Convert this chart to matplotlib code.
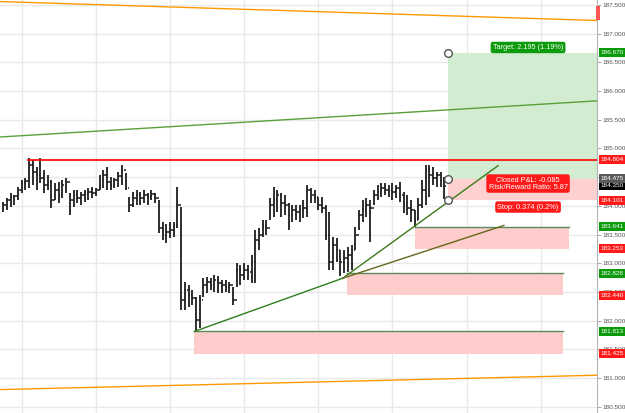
import matplotlib
matplotlib.use('Agg')
import matplotlib.pyplot as plt
from matplotlib.patches import Rectangle, FancyBboxPatch

plt.rcParams['font.family'] = ['Liberation Sans', 'DejaVu Sans']

# OHLC bars (open = previous close)
first_open = 184.05
highs = [184.07, 184.14, 184.23, 184.19, 184.33, 184.45, 184.49, 184.84, 184.80, 184.68,
         184.84, 184.63, 184.54, 184.45, 184.40, 184.42, 184.45, 184.49, 184.23, 184.28,
         184.28, 184.24, 184.28, 184.31, 184.33, 184.31, 184.54, 184.63, 184.68, 184.50,
         184.49, 184.59, 184.71, 184.57, 184.16, 184.24, 184.28, 184.24, 184.28, 184.23,
         184.28, 184.23, 184.10, 183.72, 183.69, 183.72, 183.72, 184.33, 183.98, 182.67,
         182.62, 182.53, 182.41, 182.45, 182.74, 182.76, 182.74, 182.80, 182.78, 182.71,
         182.71, 182.67, 182.59, 183.00, 182.97, 183.00, 182.97, 183.14, 183.58, 183.61,
         183.75, 183.75, 184.14, 184.33, 184.28, 184.23, 184.19, 184.05, 184.02, 184.02,
         184.02, 184.10, 184.36, 184.31, 184.28, 184.16, 184.16, 184.02, 183.89, 183.46,
         183.44, 183.23, 183.23, 183.29, 183.32, 183.63, 183.93, 184.10, 184.14, 184.10,
         184.28, 184.36, 184.40, 184.40, 184.36, 184.40, 184.36, 184.42, 184.24, 184.19,
         184.10, 183.93, 184.14, 184.45, 184.71, 184.71, 184.68, 184.59, 184.59, 184.50]
lows = [183.89, 183.93, 183.98, 184.02, 184.10, 184.23, 184.28, 184.31, 184.36, 184.28,
        184.40, 184.23, 184.28, 183.96, 184.10, 184.05, 184.14, 184.23, 183.84, 183.98,
        184.05, 184.02, 184.07, 184.10, 184.14, 184.17, 184.28, 184.31, 184.28, 184.28,
        184.31, 184.33, 184.36, 184.28, 183.89, 183.98, 184.02, 184.02, 184.05, 184.02,
        184.10, 184.05, 183.53, 183.41, 183.35, 183.44, 183.46, 183.61, 182.19, 182.19,
        182.24, 182.27, 181.813, 181.87, 182.41, 182.48, 182.53, 182.50, 182.48, 182.48,
        182.50, 182.48, 182.27, 182.59, 182.62, 182.71, 182.71, 182.66, 182.66, 183.23,
        183.46, 183.49, 183.75, 183.81, 183.89, 183.81, 183.84, 183.58, 183.72, 183.75,
        183.72, 183.79, 183.81, 184.05, 184.05, 183.93, 183.88, 183.41, 182.88, 182.88,
        183.02, 182.78, 182.828, 182.85, 182.88, 183.23, 183.58, 183.72, 183.81, 183.37,
        184.02, 184.10, 184.16, 184.19, 184.16, 184.10, 184.14, 184.07, 183.88, 183.84,
        183.72, 183.641, 183.75, 183.96, 184.02, 184.16, 184.36, 184.33, 184.33, 184.12]
closes = [184.02, 184.10, 184.16, 184.17, 184.28, 184.40, 184.43, 184.71, 184.59, 184.54,
          184.49, 184.36, 184.42, 184.10, 184.28, 184.19, 184.36, 184.42, 184.10, 184.19,
          184.14, 184.19, 184.21, 184.24, 184.23, 184.28, 184.45, 184.54, 184.42, 184.36,
          184.45, 184.52, 184.63, 184.31, 184.02, 184.14, 184.19, 184.14, 184.19, 184.16,
          184.21, 184.14, 183.61, 183.49, 183.54, 183.58, 183.67, 184.02, 182.36, 182.53,
          182.45, 182.40, 182.01, 182.36, 182.62, 182.67, 182.62, 182.71, 182.66, 182.62,
          182.59, 182.62, 182.36, 182.88, 182.80, 182.88, 182.85, 183.02, 183.41, 183.49,
          183.67, 183.61, 184.02, 184.10, 184.19, 184.05, 184.02, 183.84, 183.93, 183.89,
          183.93, 183.96, 184.28, 184.19, 184.16, 184.02, 183.96, 183.49, 183.02, 183.32,
          183.23, 183.02, 183.09, 183.14, 183.23, 183.49, 183.84, 183.93, 184.02, 183.96,
          184.19, 184.24, 184.31, 184.28, 184.28, 184.24, 184.31, 184.19, 184.02, 183.96,
          183.93, 183.75, 184.02, 184.28, 184.63, 184.54, 184.49, 184.54, 184.45, 184.35]
opens = [first_open] + closes[:-1]

y_ticks = [180.5 + 0.5 * k for k in range(15)]
x_grid = [5 + 20 * k for k in range(8)]

# position tool
entry, target, stop = 184.475, 186.670, 184.101
pos_start = 119.9
target_text = "Target: 2.195 (1.19%)"
pnl_text = "Closed P&L: -0.085\nRisk/Reward Ratio: 5.87"
stop_text = "Stop: 0.374 (0.2%)"

# zones: (x start, x end, top, bottom)
zones = [(51.6, 151.0, 181.813, 181.425),
         (92.7, 151.0, 182.828, 182.440),
         (111.0, 152.6, 183.641, 183.253)]

# trend lines: (x0, y0, x1, y1, color)
trend_lines = [(-0.9, 187.56, 160.2, 187.23, '#ff9800'),
               (-0.9, 180.80, 160.2, 181.05, '#ff9800'),
               (-0.9, 185.20, 160.2, 185.83, '#5aa03a'),
               (51.6, 181.813, 91.6, 182.74, '#2e7d1a'),
               (91.6, 182.74, 133.5, 184.70, '#3a7a1a'),
               (91.6, 182.74, 135.1, 183.66, '#66661e')]
resistance = 184.804

tags = [(186.670, '#0a9a0a'), (184.804, '#ff1a1a'), (184.350, '#000000'),
        (184.475, '#5a5a5a'), (184.101, '#ff1a1a'), (183.641, '#0a9a0a'),
        (183.253, '#ff1a1a'), (182.828, '#0a9a0a'), (182.440, '#ff1a1a'),
        (181.813, '#0a9a0a'), (181.425, '#ff1a1a')]

fig = plt.figure(figsize=(6.25, 4.13), dpi=100)
ax = fig.add_axes([0, 0, 597 / 625, 1])
ax.set_xlim(-0.86, 160.2)
ax.set_ylim(180.392, 187.587)

for gx in x_grid:
    ax.axvline(gx, color='#e9e9e9', lw=1, zorder=0)
for gy in y_ticks:
    ax.axhline(gy, color='#e9e9e9', lw=1, zorder=0)

# position boxes
ax.add_patch(Rectangle((pos_start, entry), 161 - pos_start, target - entry,
                       fc='#d2ecd2', ec='none', zorder=1))
ax.add_patch(Rectangle((pos_start, stop), 161 - pos_start, entry - stop,
                       fc='#ffd0d0', ec='none', zorder=1))

for x0, x1, top, bot in zones:
    ax.add_patch(Rectangle((x0, bot), x1 - x0, top - bot, fc='#ffcccc', ec='none', zorder=1))
    ax.plot([x0, x1], [top, top], color='#5d8a5d', lw=1, zorder=2)

for x0, y0, x1, y1, c in trend_lines:
    ax.plot([x0, x1], [y0, y1], color=c, lw=1, zorder=4)

ax.plot([6.7, 161], [resistance, resistance], color='#ff0000', lw=1.2, zorder=4)

idx = list(range(len(closes)))
ax.vlines(idx, lows, highs, color='#1e1e1e', lw=1.3, zorder=3)
ax.hlines(opens, [i - 0.45 for i in idx], idx, color='#1e1e1e', lw=1.1, zorder=3)
ax.hlines(closes, idx, [i + 0.45 for i in idx], color='#1e1e1e', lw=1.1, zorder=3)

ax.plot([pos_start] * 3, [target, entry, stop], 'o', ms=5.5, mfc='white', mec='#555555',
        mew=1, zorder=6)

lbl = dict(color='white', fontsize=5.3, ha='center', va='center', zorder=7)
ax.text(141.6, 186.76, target_text,
        bbox=dict(boxstyle='round,pad=0.3', fc='#0a9a0a', ec='none'), **lbl)
ax.text(141.6, 184.39, pnl_text, linespacing=1.0,
        bbox=dict(boxstyle='round,pad=0.3', fc='#ff1a1a', ec='none'), **lbl)
ax.text(141.6, 183.98, stop_text,
        bbox=dict(boxstyle='round,pad=0.3', fc='#ff1a1a', ec='none'), **lbl)

# right price axis
ax.yaxis.tick_right()
ax.set_yticks(y_ticks)
ax.set_yticklabels([f'{t:.3f}' for t in y_ticks])
ax.tick_params(axis='y', length=3, width=0.6, color='#999999', labelsize=4.6,
               labelcolor='#555555', pad=1.2)
ax.set_xticks([])
for s in ['top', 'left', 'bottom']:
    ax.spines[s].set_visible(False)
ax.spines['right'].set_color('#b5b5b5')
ax.spines['right'].set_linewidth(0.8)

for price, c in tags:
    ax.text(1.006, price, f'{price:.3f}', transform=ax.get_yaxis_transform(),
            color='white', fontsize=4.6, ha='left', va='center', clip_on=False, zorder=8,
            bbox=dict(boxstyle='square,pad=0.3', fc=c, ec='none'))

fig.patches.append(FancyBboxPatch((596 / 625, 393 / 413), 4 / 625, 14 / 413,
                                  boxstyle='round,pad=0', transform=fig.transFigure,
                                  fc='#ff5555', ec='none'))

fig.savefig('out.png', dpi=100)
plt.close(fig)
